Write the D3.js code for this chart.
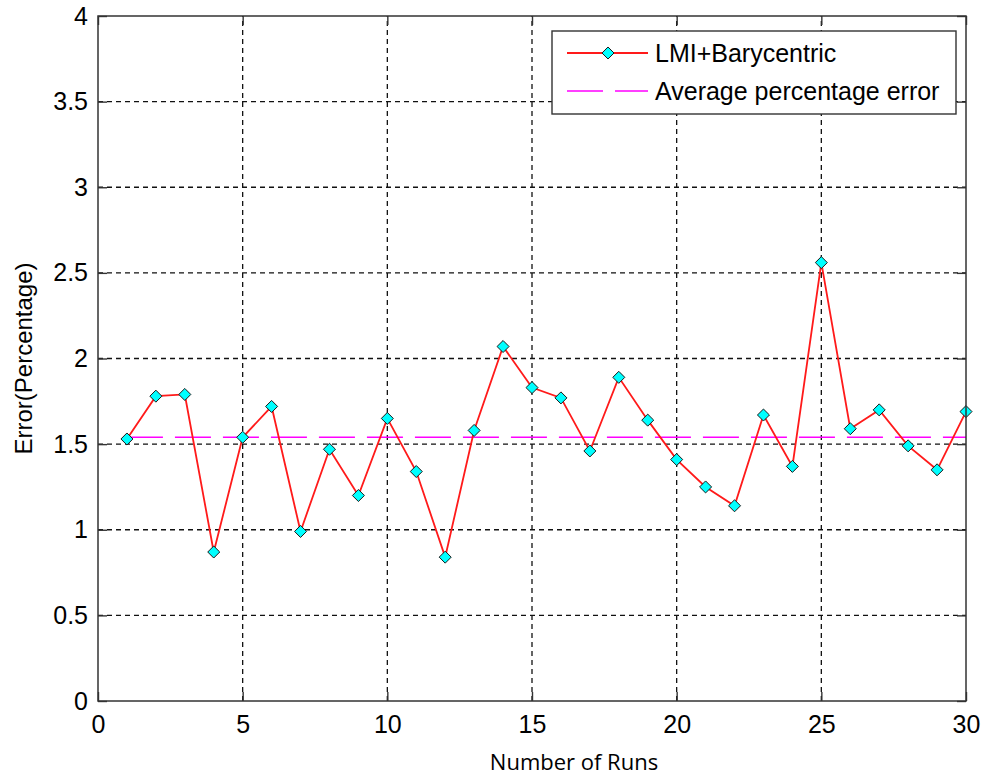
<!DOCTYPE html>
<html>
<head>
<meta charset="utf-8">
<script src="https://d3js.org/d3.v7.min.js"></script>
<style>
  body { margin: 0; background: #fff; }
</style>
</head>
<body>
<div id="chart"></div>
<script>
// values
var runs = [1, 2, 3, 4, 5, 6, 7, 8, 9, 10, 11, 12, 13, 14, 15,
            16, 17, 18, 19, 20, 21, 22, 23, 24, 25, 26, 27, 28, 29, 30];
var errors = [1.53, 1.78, 1.79, 0.87, 1.54, 1.72, 0.99, 1.47, 1.20, 1.65,
              1.34, 0.84, 1.58, 2.07, 1.83, 1.77, 1.46, 1.89, 1.64, 1.41,
              1.25, 1.14, 1.67, 1.37, 2.56, 1.59, 1.70, 1.49, 1.35, 1.69];
var avgError = 1.54;
var xTicks = [0, 5, 10, 15, 20, 25, 30];
var yTicks = [0, 0.5, 1, 1.5, 2, 2.5, 3, 3.5, 4];
var seriesNames = ["LMI+Barycentric", "Average percentage error"];

var margin = {top: 16, right: 16, bottom: 75, left: 98},
    width = 982 - margin.left - margin.right,
    height = 776 - margin.top - margin.bottom;

var font = "'Liberation Sans', Arial, sans-serif";

var svg = d3.select("#chart")
    .append("svg")
    .attr("width", width + margin.left + margin.right)
    .attr("height", height + margin.top + margin.bottom)
    .append("g")
    .attr("transform", "translate(" + margin.left + "," + margin.top + ")");

var x = d3.scaleLinear().domain([0, 30]).range([0, width]);
var y = d3.scaleLinear().domain([0, 4]).range([height, 0]);

// dashed grid
var grid = svg.append("g")
    .attr("stroke", "#111")
    .attr("stroke-width", 1.3)
    .attr("stroke-dasharray", "5,4");
grid.selectAll(".vgrid")
    .data(xTicks.slice(1, -1))
    .enter().append("line")
    .attr("x1", function(d) { return x(d); })
    .attr("x2", function(d) { return x(d); })
    .attr("y1", height)
    .attr("y2", 0);
grid.selectAll(".hgrid")
    .data(yTicks.slice(1, -1))
    .enter().append("line")
    .attr("x1", 0)
    .attr("x2", width)
    .attr("y1", function(d) { return y(d); })
    .attr("y2", function(d) { return y(d); });

// axes, ticks pointing inward on all sides
var tickLen = 9;
function styleAxis(g) {
    g.select(".domain").remove();
    g.selectAll("line").attr("stroke", "#333").attr("stroke-width", 1.4);
    g.attr("font-family", font).attr("font-size", 25);
    g.selectAll("text").attr("fill", "#000");
}
svg.append("g")
    .attr("transform", "translate(0," + height + ")")
    .call(d3.axisBottom(x).tickValues(xTicks).tickSize(-tickLen).tickPadding(14).tickFormat(d3.format("")))
    .call(styleAxis);
svg.append("g")
    .call(d3.axisLeft(y).tickValues(yTicks).tickSize(-tickLen).tickPadding(10).tickFormat(d3.format("")))
    .call(styleAxis);
svg.append("g")
    .call(d3.axisTop(x).tickValues(xTicks).tickSize(-tickLen).tickFormat(""))
    .call(styleAxis);
svg.append("g")
    .attr("transform", "translate(" + width + ",0)")
    .call(d3.axisRight(y).tickValues(yTicks).tickSize(-tickLen).tickFormat(""))
    .call(styleAxis);

// average line
svg.append("line")
    .attr("x1", x(runs[0]))
    .attr("x2", x(runs[runs.length - 1]))
    .attr("y1", y(avgError))
    .attr("y2", y(avgError))
    .attr("stroke", "#ff00ff")
    .attr("stroke-width", 1.6)
    .attr("stroke-dasharray", "36,12");

// error series
var line = d3.line()
    .x(function(d, i) { return x(runs[i]); })
    .y(function(d) { return y(d); });
svg.append("path")
    .datum(errors)
    .attr("fill", "none")
    .attr("stroke", "#ff1a1a")
    .attr("stroke-width", 1.8)
    .attr("d", line);

var diamond = d3.symbol().type(d3.symbolDiamond2).size(92);
svg.selectAll(".marker")
    .data(errors)
    .enter().append("path")
    .attr("class", "marker")
    .attr("transform", function(d, i) { return "translate(" + x(runs[i]) + "," + y(d) + ")"; })
    .attr("d", diamond)
    .attr("fill", "#00ffff")
    .attr("stroke", "#1a1a1a")
    .attr("stroke-width", 1);

// frame
svg.append("rect")
    .attr("width", width)
    .attr("height", height)
    .attr("fill", "none")
    .attr("stroke", "#333")
    .attr("stroke-width", 1.5);

// legend
var legend = svg.append("g")
    .attr("transform", "translate(" + (552 - margin.left) + "," + (31 - margin.top) + ")");
legend.append("rect")
    .attr("width", 404)
    .attr("height", 83)
    .attr("fill", "#fff")
    .attr("stroke", "#333")
    .attr("stroke-width", 1.4);
legend.append("line")
    .attr("x1", 15).attr("x2", 96)
    .attr("y1", 22).attr("y2", 22)
    .attr("stroke", "#ff1a1a")
    .attr("stroke-width", 1.8);
legend.append("path")
    .attr("transform", "translate(56,22)")
    .attr("d", diamond)
    .attr("fill", "#00ffff")
    .attr("stroke", "#1a1a1a")
    .attr("stroke-width", 1);
legend.append("line")
    .attr("x1", 15).attr("x2", 96)
    .attr("y1", 60).attr("y2", 60)
    .attr("stroke", "#ff00ff")
    .attr("stroke-width", 1.6)
    .attr("stroke-dasharray", "36,12");
legend.selectAll(".legend-label")
    .data(seriesNames)
    .enter().append("text")
    .attr("class", "legend-label")
    .attr("x", 103)
    .attr("y", function(d, i) { return 31 + i * 38; })
    .attr("font-family", font)
    .attr("font-size", 25)
    .attr("fill", "#000")
    .text(function(d) { return d; });

// axis titles
svg.append("text")
    .attr("text-anchor", "middle")
    .attr("x", 574 - margin.left)
    .attr("y", 770 - margin.top)
    .attr("font-family", "'Open Sans', 'Noto Sans', sans-serif")
    .attr("font-size", 22)
    .attr("fill", "#000")
    .text("Number of Runs");

svg.append("text")
    .attr("text-anchor", "middle")
    .attr("transform", "rotate(-90)")
    .attr("x", -height / 2)
    .attr("y", 32 - margin.left)
    .attr("font-family", font)
    .attr("font-size", 24)
    .attr("fill", "#000")
    .text("Error(Percentage)");
</script>
</body>
</html>
